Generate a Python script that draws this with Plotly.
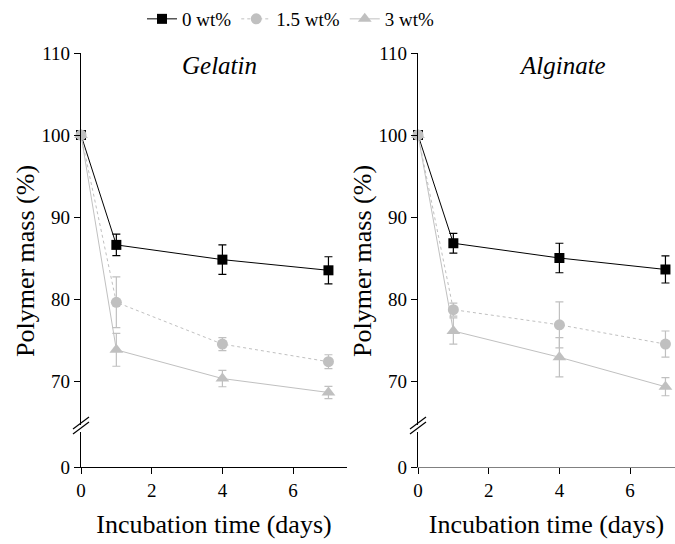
import plotly.graph_objects as go

days = [0, 1, 4, 7]
series_names = ["0 wt%", "1.5 wt%", "3 wt%"]
panel_titles = ["Gelatin", "Alginate"]

gel_0 = [100, 86.6, 84.8, 83.5]
gel_0_err = [0, 1.3, 1.8, 1.65]
gel_15 = [100, 79.6, 74.5, 72.35]
gel_15_err = [0, 3.1, 0.8, 0.85]
gel_3 = [100, 73.8, 70.3, 68.6]
gel_3_err = [0, 2.0, 1.0, 0.75]

alg_0 = [100, 86.8, 85.0, 83.6]
alg_0_err = [0, 1.2, 1.8, 1.65]
alg_15 = [100, 78.7, 76.85, 74.5]
alg_15_err = [0, 0.8, 2.8, 1.6]
alg_3 = [100, 76.1, 72.9, 69.3]
alg_3_err = [0, 1.6, 2.4, 1.1]

x_ticks = [0, 2, 4, 6]
y_ticks_upper = [70, 80, 90, 100, 110]
y_ticks_lower = [0]

FONT = "Liberation Serif, Times New Roman, serif"
BLACK = "#000000"
GRAY = "#C0C0C0"

styles = [
    dict(color=BLACK, symbol="square", size=10, dash="solid"),
    dict(color=GRAY, symbol="circle", size=11, dash="3px,3px"),
    dict(color=GRAY, symbol="triangle-up", size=12, dash="solid"),
]

W, H = 675, 544
mt, mb = 53, 77
ph = H - mt - mb
upper_dom = [(467 - 425) / ph, 1.0]
lower_dom = [0.0, (467 - 432) / ph]
ppu = 8.2

fig = go.Figure()

panels = [
    (panel_titles[0], [gel_0, gel_15, gel_3], [gel_0_err, gel_15_err, gel_3_err], "x", "y", "y2"),
    (panel_titles[1], [alg_0, alg_15, alg_3], [alg_0_err, alg_15_err, alg_3_err], "x2", "y3", "y4"),
]

for pi, (title, vals, errs, xa, ya, ya_low) in enumerate(panels):
    for si in range(3):
        st = styles[si]
        fig.add_trace(go.Scatter(
            x=days, y=vals[si], xaxis=xa, yaxis=ya,
            mode="lines+markers",
            name=series_names[si],
            showlegend=(pi == 0),
            line=dict(color=st["color"], width=1, dash=st["dash"]),
            marker=dict(color=st["color"], symbol=st["symbol"], size=st["size"]),
            error_y=dict(type="data", array=errs[si], visible=True,
                         color=st["color"], thickness=1.2, width=4),
            cliponaxis=False,
        ))
    # empty trace so the lower (broken) axis segment is registered and drawn
    fig.add_trace(go.Scatter(x=[], y=[], xaxis=xa, yaxis=ya_low, showlegend=False,
                             hoverinfo="skip", mode="markers"))

x1_dom = [81 / W, 347 / W]
x2_dom = [418 / W, 1.0]
x1_range = [0, (347 - 81) / 35.35]
x2_range = [0, (675 - 418) / 35.35]

upper_range = [110 - (425 - 53) / ppu, 110]
lower_range = [0, (467 - 432) / ppu]

tickfont = dict(family=FONT, size=19, color=BLACK)

def xaxis(dom, rng, anchor, linecolor):
    return dict(domain=dom, range=rng, anchor=anchor, tickvals=x_ticks,
                showline=True, linecolor=linecolor, linewidth=1.3,
                ticks="outside", ticklen=6, tickcolor=BLACK, showgrid=False,
                zeroline=False, tickfont=tickfont, automargin=False,
                title=dict(text="Incubation time (days)", font=dict(family=FONT, size=26, color=BLACK), standoff=14))

def yaxis(dom, rng, anchor, vals):
    return dict(domain=dom, range=rng, anchor=anchor, tickvals=vals,
                showline=True, linecolor=BLACK, linewidth=1.2,
                ticks="outside", ticklen=6, tickcolor=BLACK, showgrid=False,
                zeroline=False, tickfont=tickfont, automargin=False)

fig.update_layout(
    width=W, height=H,
    margin=dict(l=0, r=0, t=mt, b=mb, autoexpand=False),
    paper_bgcolor="white", plot_bgcolor="white",
    font=dict(family=FONT, color=BLACK),
    xaxis=xaxis(x1_dom, x1_range, "y2", BLACK),
    xaxis2=xaxis(x2_dom, x2_range, "y4", "#808080"),
    yaxis=yaxis(upper_dom, upper_range, "x", y_ticks_upper),
    yaxis2=yaxis(lower_dom, lower_range, "x", y_ticks_lower),
    yaxis3=yaxis(upper_dom, upper_range, "x2", y_ticks_upper),
    yaxis4=yaxis(lower_dom, lower_range, "x2", y_ticks_lower),
    legend=dict(orientation="h", x=142 / W, xanchor="left", y=1 + (mt - 19) / ph, yanchor="middle",
                font=dict(family=FONT, size=19, color=BLACK), bgcolor="rgba(0,0,0,0)",
                itemwidth=30, tracegroupgap=0),
    showlegend=True,
)

for xc, t in [(219, panel_titles[0]), (562, panel_titles[1])]:
    fig.add_annotation(x=xc / W, y=1 - (65 - mt) / ph, xref="paper", yref="paper",
                       text="<i>" + t + "</i>", showarrow=False,
                       font=dict(family=FONT, size=25, color=BLACK), xanchor="center", yanchor="middle")
for xc in [25, 362]:
    fig.add_annotation(x=xc / W, y=(467 - 261) / ph, xref="paper", yref="paper",
                       text="Polymer mass (%)", showarrow=False, textangle=-90,
                       font=dict(family=FONT, size=26, color=BLACK), xanchor="center", yanchor="middle")

def py(ypix):
    return (467 - ypix) / ph

for ax0 in [81, 418]:
    for dy in [0, 5]:
        fig.add_shape(type="line", xref="paper", yref="paper",
                      x0=(ax0 - 8) / W, y0=py(433 + dy - 4), x1=(ax0 + 8) / W, y1=py(421 + dy - 4),
                      line=dict(color=BLACK, width=1.2))

fig.write_html("out.html", config={"displayModeBar": False},
               post_script="document.body.style.margin='0px';")
